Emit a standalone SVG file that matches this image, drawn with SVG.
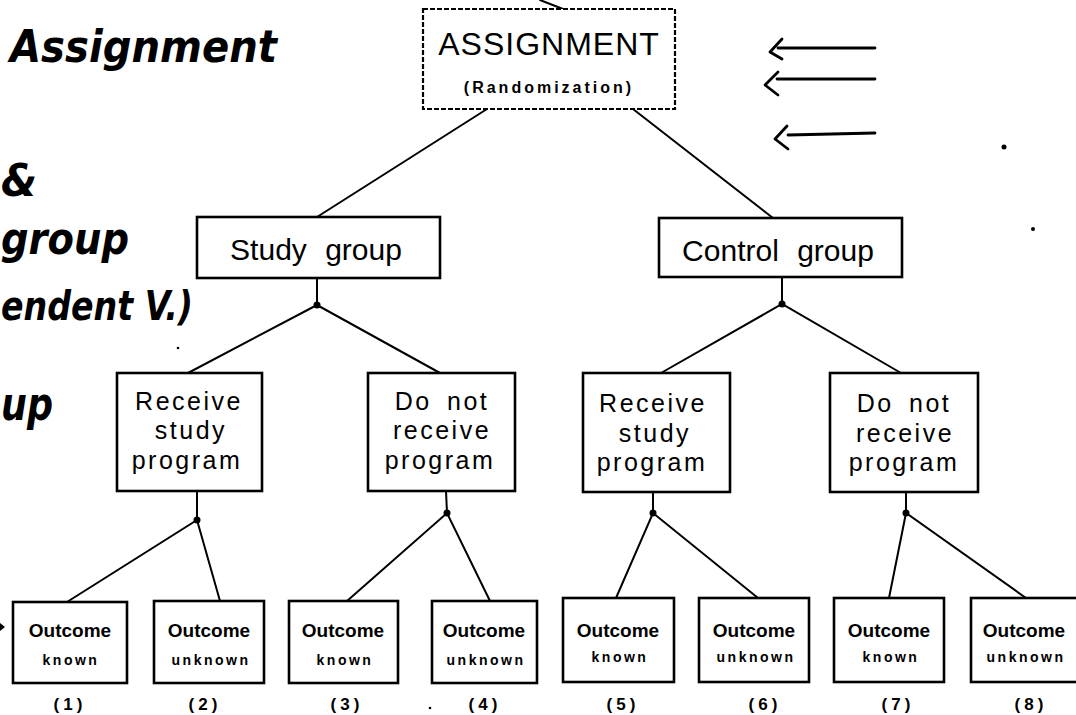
<svg xmlns="http://www.w3.org/2000/svg" width="1076" height="715" viewBox="0 0 1076 715">
  <style>
    .box { fill: #fff; stroke: #000; stroke-width: 2.6; }
    .dash { fill: #fff; stroke: #000; stroke-width: 2.2; stroke-dasharray: 5 2; }
    .wire { stroke: #000; stroke-width: 2; fill: none; stroke-linecap: round; }
    .pen { stroke: #000; stroke-width: 2.8; fill: none; stroke-linecap: round; stroke-linejoin: round; }
    .dot { fill: #000; }
    .t { font-family: "Liberation Sans", Arial, sans-serif; fill: #000; text-anchor: middle; }
    .big { font-size: 30px; }
    .mid { font-size: 25px; letter-spacing: 2.5px; }
    .oc { font-size: 19px; font-weight: bold; }
    .kn { font-size: 14px; font-weight: bold; letter-spacing: 2.5px; }
    .num { font-size: 17px; font-weight: bold; letter-spacing: 4px; }
    .hand { font-family: "DejaVu Sans", "Liberation Sans", sans-serif; font-weight: bold; font-style: italic; fill: #000; }
  </style>

  <rect width="1076" height="715" fill="#fff"/>

  <!-- handwritten margin notes -->
  <g id="notes">
    <text class="hand" x="10" y="62" font-size="44" textLength="267" lengthAdjust="spacingAndGlyphs">Assignment</text>
    <text class="hand" x="1" y="196" font-size="44" textLength="36" lengthAdjust="spacingAndGlyphs">&amp;</text>
    <text class="hand" x="1" y="254" font-size="44" textLength="128" lengthAdjust="spacingAndGlyphs">group</text>
    <text class="hand" x="1" y="320" font-size="40" textLength="192" lengthAdjust="spacingAndGlyphs">endent V.)</text>
    <text class="hand" x="1" y="420" font-size="46" textLength="52" lengthAdjust="spacingAndGlyphs">up</text>
    <path class="pen" d="M875,48 L778,48 M782,39 L770,52 L782,59"/>
    <path class="pen" d="M875,79 L777,79 M778,72 L765,85 L778,95"/>
    <path class="pen" d="M875,133 L788,135 M787,126 L775,139 L788,149"/>
    <circle class="dot" cx="1004" cy="147" r="2.5"/>
    <circle class="dot" cx="1033" cy="229" r="2"/>
    <circle class="dot" cx="178" cy="348" r="1.3"/>
    <circle class="dot" cx="430" cy="708" r="1.3"/>
    <polygon class="dot" points="0,623 5,627 0,631"/>
  </g>

  <!-- connectors -->
  <g id="connectors">
    <line class="wire" x1="540" y1="0" x2="563" y2="9"/>
    <line class="wire" x1="487" y1="109" x2="317" y2="217"/>
    <line class="wire" x1="633" y1="109" x2="773" y2="218"/>

    <path class="wire" d="M317,278 L317,305 M188,373 L317,305 L440,373"/>
    <path class="wire" d="M782,277 L782,304 M661,373 L782,304 L901,373"/>

    <path class="wire" d="M197,491 L197,520 M67,602 L197,520 L220,601"/>
    <path class="wire" d="M446,491 L447,513 M347,601 L447,513 L490,601"/>
    <path class="wire" d="M653,492 L653,513 M616,598 L653,513 L758,598"/>
    <path class="wire" d="M906,492 L906,513 M889,598 L906,513 L1026,598"/>

    <circle class="dot" cx="317" cy="305" r="3.5"/>
    <circle class="dot" cx="782" cy="304" r="3.5"/>
    <circle class="dot" cx="197" cy="520" r="3.5"/>
    <circle class="dot" cx="447" cy="513" r="3.5"/>
    <circle class="dot" cx="653" cy="513" r="3.5"/>
    <circle class="dot" cx="906" cy="513" r="3.5"/>
  </g>

  <g id="assignment">
    <rect class="dash" x="423" y="9" width="252" height="100"/>
    <text class="t" x="549" y="55" font-size="32" letter-spacing="1">ASSIGNMENT</text>
    <text class="t" x="549" y="93" font-size="16" font-weight="bold" letter-spacing="3">(Randomization)</text>
  </g>

  <g id="study-group">
    <rect class="box" x="197" y="217" width="243" height="61"/>
    <text class="t big" x="316" y="260" word-spacing="10">Study group</text>
  </g>

  <g id="control-group">
    <rect class="box" x="659" y="218" width="243" height="59"/>
    <text class="t big" x="778" y="261" word-spacing="10">Control group</text>
  </g>

  <g id="study-receive">
    <rect class="box" x="117" y="373" width="145" height="118"/>
    <text class="t mid" x="189" y="410">Receive</text>
    <text class="t mid" x="191" y="439">study</text>
    <text class="t mid" x="187" y="469">program</text>
  </g>

  <g id="study-no-program">
    <rect class="box" x="368" y="373" width="147" height="118"/>
    <text class="t mid" x="442" y="410" word-spacing="6">Do not</text>
    <text class="t mid" x="442" y="439">receive</text>
    <text class="t mid" x="440" y="469">program</text>
  </g>

  <g id="control-receive">
    <rect class="box" x="583" y="373" width="147" height="119"/>
    <text class="t mid" x="653" y="412">Receive</text>
    <text class="t mid" x="655" y="442">study</text>
    <text class="t mid" x="652" y="471">program</text>
  </g>

  <g id="control-no-program">
    <rect class="box" x="830" y="373" width="148" height="119"/>
    <text class="t mid" x="904" y="412" word-spacing="6">Do not</text>
    <text class="t mid" x="905" y="442">receive</text>
    <text class="t mid" x="904" y="471">program</text>
  </g>

  <g id="outcome-1">
    <rect class="box" x="13" y="602" width="114" height="81"/>
    <text class="t oc" x="70" y="637">Outcome</text>
    <text class="t kn" x="71" y="665">known</text>
    <text class="t num" x="70" y="710">(1)</text>
  </g>
  <g id="outcome-2">
    <rect class="box" x="154" y="601" width="110" height="82"/>
    <text class="t oc" x="209" y="637">Outcome</text>
    <text class="t kn" x="211" y="665">unknown</text>
    <text class="t num" x="205" y="710">(2)</text>
  </g>
  <g id="outcome-3">
    <rect class="box" x="289" y="601" width="109" height="82"/>
    <text class="t oc" x="343" y="637">Outcome</text>
    <text class="t kn" x="345" y="665">known</text>
    <text class="t num" x="347" y="710">(3)</text>
  </g>
  <g id="outcome-4">
    <rect class="box" x="432" y="601" width="105" height="82"/>
    <text class="t oc" x="484" y="637">Outcome</text>
    <text class="t kn" x="486" y="665">unknown</text>
    <text class="t num" x="485" y="710">(4)</text>
  </g>
  <g id="outcome-5">
    <rect class="box" x="563" y="598" width="111" height="84"/>
    <text class="t oc" x="618" y="637">Outcome</text>
    <text class="t kn" x="620" y="662">known</text>
    <text class="t num" x="623" y="710">(5)</text>
  </g>
  <g id="outcome-6">
    <rect class="box" x="699" y="598" width="110" height="84"/>
    <text class="t oc" x="754" y="637">Outcome</text>
    <text class="t kn" x="756" y="662">unknown</text>
    <text class="t num" x="765" y="710">(6)</text>
  </g>
  <g id="outcome-7">
    <rect class="box" x="834" y="598" width="110" height="84"/>
    <text class="t oc" x="889" y="637">Outcome</text>
    <text class="t kn" x="891" y="662">known</text>
    <text class="t num" x="898" y="710">(7)</text>
  </g>
  <g id="outcome-8">
    <rect class="box" x="971" y="598" width="112" height="84"/>
    <text class="t oc" x="1024" y="637">Outcome</text>
    <text class="t kn" x="1026" y="662">unknown</text>
    <text class="t num" x="1031" y="710">(8)</text>
  </g>
</svg>
